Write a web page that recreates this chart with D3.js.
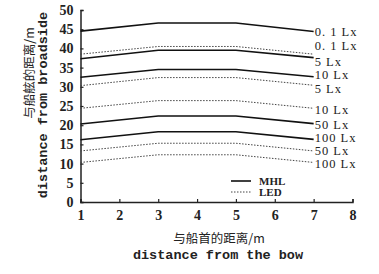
<!DOCTYPE html>
<html>
<head>
<meta charset="utf-8">
<script src="https://cdn.jsdelivr.net/npm/d3@7/dist/d3.min.js"></script>
<style>
  body { margin: 0; background: #fff; }
  svg { display: block; }
  .tick text { font-family: "Liberation Serif", serif; font-weight: bold; font-size: 14px; fill: #222; }
  .mono { font-family: "Liberation Mono", monospace; font-weight: bold; font-size: 13.5px; fill: #222; }
  .cjk { font-family: "Noto Sans CJK SC", sans-serif; font-size: 12.5px; fill: #222; }
  .lbl { font-family: "Liberation Serif", serif; font-size: 12.5px; letter-spacing: 1px; fill: #222; }
</style>
</head>
<body>
<div id="chart"></div>
<script>
// positions along the hull (m)
const xs = [1, 3, 5, 7];

// MHL (solid) curves
const mhlNames = ['0. 1 Lx', '5 Lx', '10 Lx', '50 Lx', '100 Lx'];
const mhl01 = [44.5, 46.6, 46.6, 44.4];
const mhl5 = [37.3, 39.5, 39.5, 37.6];
const mhl10 = [32.5, 34.5, 34.5, 32.6];
const mhl50 = [20.3, 22.4, 22.4, 20.4];
const mhl100 = [16.2, 18.3, 18.3, 16.3];

// LED (dotted) curves
const ledNames = ['0. 1 Lx', '5 Lx', '10 Lx', '50 Lx', '100 Lx'];
const led01 = [38.5, 40.5, 40.5, 38.5];
const led5 = [30.3, 32.4, 32.4, 30.4];
const led10 = [24.4, 26.4, 26.4, 24.4];
const led50 = [13.3, 15.3, 15.3, 13.3];
const led100 = [10.3, 12.3, 12.3, 10.3];

const xTicks = [1, 2, 3, 4, 5, 6, 7, 8];
const yTicks = [0, 5, 10, 15, 20, 25, 30, 35, 40, 45, 50];

const W = 379, H = 274;
const svg = d3.select('#chart').append('svg').attr('width', W).attr('height', H);

const x = d3.scaleLinear().domain([1, 8]).range([80.5, 352.5]);
const y = d3.scaleLinear().domain([0, 50]).range([202, 10]);

// axes
const xAxis = svg.append('g').attr('transform', `translate(0,${y(0)})`)
    .call(d3.axisBottom(x).tickValues(xTicks).tickSize(-3).tickPadding(10).tickFormat(d3.format('d')));
const yAxis = svg.append('g').attr('transform', `translate(${x(1)},0)`)
    .call(d3.axisLeft(y).tickValues(yTicks).tickSize(-3).tickPadding(7).tickFormat(d3.format('d')));
[xAxis, yAxis].forEach(a => {
    a.select('.domain').attr('stroke', '#222').attr('stroke-width', 1.5);
    a.selectAll('.tick line').attr('stroke', '#222').attr('stroke-width', 1.2);
});
xAxis.selectAll('.tick text').attr('dy', '0.6em');

const line = d3.line().x((d, i) => x(xs[i])).y(d => y(d));

const mhlSeries = [mhl01, mhl5, mhl10, mhl50, mhl100];
const ledSeries = [led01, led5, led10, led50, led100];

svg.append('g').selectAll('path').data(mhlSeries).join('path')
    .attr('d', line).attr('fill', 'none').attr('stroke', '#111').attr('stroke-width', 1.6);
svg.append('g').selectAll('path').data(ledSeries).join('path')
    .attr('d', line).attr('fill', 'none').attr('stroke', '#444').attr('stroke-width', 1)
    .attr('stroke-dasharray', '1.5,1.5');

// end labels (small pixel nudges, like the original)
const mhlDy = [0, 4, -2, 1, -2];
const ledDy = [-9, 3, 1, 0, 1];
const labelX = x(7) + 1;
svg.append('g').selectAll('text').data(mhlSeries).join('text')
    .attr('class', 'lbl').attr('x', labelX)
    .attr('y', (d, i) => y(d[3]) + mhlDy[i]).attr('dy', '0.35em')
    .text((d, i) => mhlNames[i]);
svg.append('g').selectAll('text').data(ledSeries).join('text')
    .attr('class', 'lbl').attr('x', labelX)
    .attr('y', (d, i) => y(d[3]) + ledDy[i]).attr('dy', '0.35em')
    .text((d, i) => ledNames[i]);

// legend
const leg = svg.append('g');
leg.append('line').attr('x1', 231).attr('x2', 251).attr('y1', 181).attr('y2', 181)
    .attr('stroke', '#111').attr('stroke-width', 1.6);
leg.append('line').attr('x1', 231).attr('x2', 251).attr('y1', 192).attr('y2', 192)
    .attr('stroke', '#444').attr('stroke-width', 1).attr('stroke-dasharray', '1.5,1.5');
leg.append('text').attr('x', 259).attr('y', 181).attr('dy', '0.35em')
    .style('font-family', '"Liberation Sans Narrow", "Liberation Serif", serif').style('font-weight', 'bold')
    .style('font-size', '11px').style('fill', '#222').text('MHL');
leg.append('text').attr('x', 259).attr('y', 192).attr('dy', '0.35em')
    .style('font-family', '"Liberation Sans Narrow", "Liberation Serif", serif').style('font-weight', 'bold')
    .style('font-size', '11px').style('fill', '#222').text('LED');

// axis titles
svg.append('text').attr('class', 'cjk').attr('text-anchor', 'middle')
    .attr('x', 219).attr('y', 243).text('与船首的距离/m');
svg.append('text').attr('class', 'mono').attr('text-anchor', 'middle')
    .attr('x', 218).attr('y', 259).text('distance from the bow');

svg.append('text').attr('class', 'cjk').attr('text-anchor', 'middle')
    .attr('transform', 'translate(34,73) rotate(-90)').text('与船舷的距离/m');
svg.append('text').attr('class', 'mono').attr('text-anchor', 'middle')
    .attr('transform', 'translate(47,105) rotate(-90)').text('distance from broadside');
</script>
</body>
</html>
